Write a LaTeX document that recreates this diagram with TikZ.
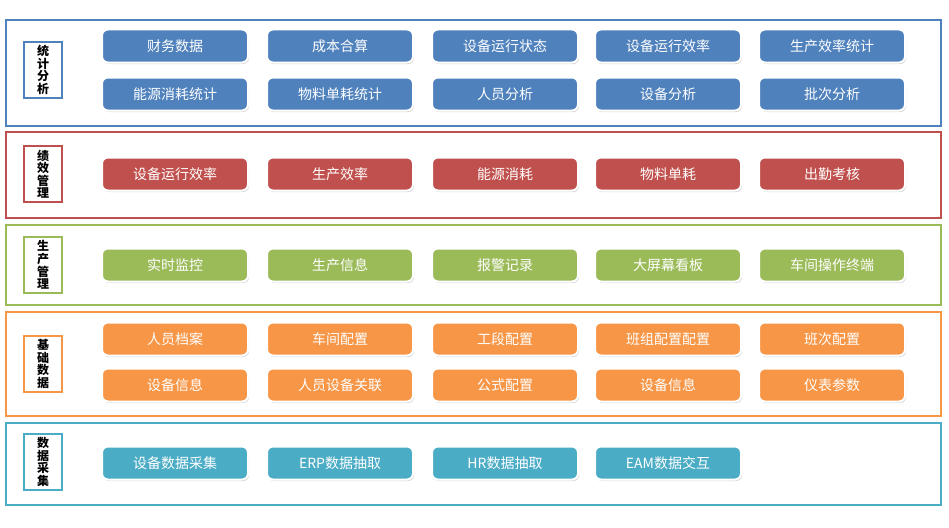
\documentclass[tikz,border=0pt]{standalone}
\usepackage{fontspec}
\setmainfont{Noto Sans CJK SC}
\usetikzlibrary{shadows}
\definecolor{cblue}{HTML}{4F81BD}
\definecolor{cred}{HTML}{C0504D}
\definecolor{cgreen}{HTML}{9BBB59}
\definecolor{corange}{HTML}{F79646}
\definecolor{caqua}{HTML}{4BACC6}
\begin{document}
\begin{tikzpicture}[x=1pt,y=-1pt,
  sec/.style={draw=#1,line width=1.2pt},
  lab/.style={draw=#1,line width=1.2pt,fill=white,minimum width=38pt,minimum height=56pt,inner sep=1pt,font=\bfseries\fontsize{12}{12.5}\selectfont,align=center},
  btn/.style={fill=#1,draw=white,line width=2pt,rounded corners=6pt,minimum width=146pt,minimum height=33pt,text=white,font=\fontsize{14}{16}\selectfont,drop shadow={shadow xshift=1pt,shadow yshift=-1.5pt,opacity=0.35}}]
\useasboundingbox (0,0) rectangle (949,527);
\draw[sec=cblue] (6,20) rectangle (941,126);
\draw[sec=cred] (6,132) rectangle (941,218);
\draw[sec=cgreen] (6,225) rectangle (941,305);
\draw[sec=corange] (6,312) rectangle (941,416);
\draw[sec=caqua] (6,423) rectangle (941,505);
\node[lab=cblue] (l1) at (43,70) {统\\计\\分\\析};
\node[lab=cred] (l2) at (43,174) {绩\\效\\管\\理};
\node[lab=cgreen] (l3) at (43,265) {生\\产\\管\\理};
\node[lab=corange] (l4) at (43,364) {基\\础\\数\\据};
\node[lab=caqua] (l5) at (43,462) {数\\据\\采\\集};
\def\cA{175}\def\cB{340}\def\cC{505}\def\cD{668}\def\cE{832}
\node[btn=cblue] (a1) at (\cA,46) {财务数据};
\node[btn=cblue] (a2) at (\cB,46) {成本合算};
\node[btn=cblue] (a3) at (\cC,46) {设备运行状态};
\node[btn=cblue] (a4) at (\cD,46) {设备运行效率};
\node[btn=cblue] (a5) at (\cE,46) {生产效率统计};
\node[btn=cblue] (b1) at (\cA,94) {能源消耗统计};
\node[btn=cblue] (b2) at (\cB,94) {物料单耗统计};
\node[btn=cblue] (b3) at (\cC,94) {人员分析};
\node[btn=cblue] (b4) at (\cD,94) {设备分析};
\node[btn=cblue] (b5) at (\cE,94) {批次分析};
\node[btn=cred] (c1) at (\cA,174) {设备运行效率};
\node[btn=cred] (c2) at (\cB,174) {生产效率};
\node[btn=cred] (c3) at (\cC,174) {能源消耗};
\node[btn=cred] (c4) at (\cD,174) {物料单耗};
\node[btn=cred] (c5) at (\cE,174) {出勤考核};
\node[btn=cgreen] (d1) at (\cA,265) {实时监控};
\node[btn=cgreen] (d2) at (\cB,265) {生产信息};
\node[btn=cgreen] (d3) at (\cC,265) {报警记录};
\node[btn=cgreen] (d4) at (\cD,265) {大屏幕看板};
\node[btn=cgreen] (d5) at (\cE,265) {车间操作终端};
\node[btn=corange] (e1) at (\cA,339) {人员档案};
\node[btn=corange] (e2) at (\cB,339) {车间配置};
\node[btn=corange] (e3) at (\cC,339) {工段配置};
\node[btn=corange] (e4) at (\cD,339) {班组配置配置};
\node[btn=corange] (e5) at (\cE,339) {班次配置};
\node[btn=corange] (f1) at (\cA,385) {设备信息};
\node[btn=corange] (f2) at (\cB,385) {人员设备关联};
\node[btn=corange] (f3) at (\cC,385) {公式配置};
\node[btn=corange] (f4) at (\cD,385) {设备信息};
\node[btn=corange] (f5) at (\cE,385) {仪表参数};
\node[btn=caqua] (g1) at (\cA,463) {设备数据采集};
\node[btn=caqua] (g2) at (\cB,463) {ERP数据抽取};
\node[btn=caqua] (g3) at (\cC,463) {HR数据抽取};
\node[btn=caqua] (g4) at (\cD,463) {EAM数据交互};
\end{tikzpicture}
\end{document}
